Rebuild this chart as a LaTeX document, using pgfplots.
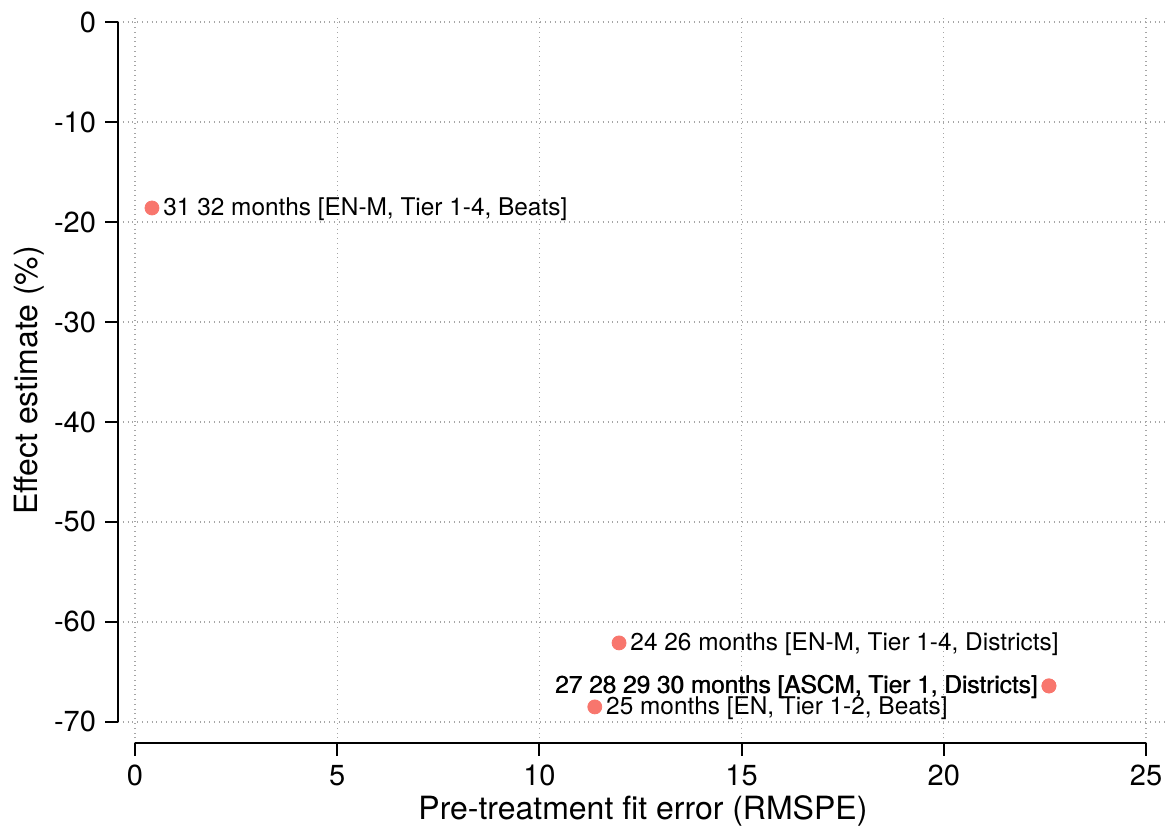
\documentclass[border=0pt]{standalone}
\usepackage{fontspec}
\setmainfont{TeX Gyre Heros}
\usepackage{pgfplots}
\pgfplotsset{compat=1.18}
\definecolor{pt}{RGB}{248,118,109}
\begin{document}
\begin{tikzpicture}
\begin{axis}[
  scale only axis, width=525pt, height=362.5pt,
  xmin=-0.42, xmax=25.54, ymin=-72.1, ymax=0.4,
  axis lines*=left,
  axis line style={draw=none},
  xtick={0,5,...,25}, ytick={-70,-60,...,0},
  tick align=outside, major tick length=6.5pt,
  tick style={black, line width=1pt},
  /pgf/number format/assume math mode=true,
  ticklabel style={font=\fontsize{14.5}{14.5}\selectfont},
  xticklabel style={yshift=-1pt},
  yticklabel style={xshift=-1pt},
  grid=major,
  major grid style={gray!70, dotted, line width=0.6pt},
  xlabel={Pre-treatment fit error (RMSPE)},
  ylabel={Effect estimate (\%)},
  label style={font=\fontsize{16}{16}\selectfont},
  xlabel style={yshift=2pt},
  ylabel style={yshift=-2pt},
  clip=false,
  every node near coord/.append style={font=\fontsize{12.2}{12.2}\selectfont, inner sep=0pt, text=black},
]
\coordinate (bl) at (axis cs:-3.338,-80.5);
\coordinate (tr) at (axis cs:25.618,2.2);
\draw[line width=1pt] (axis cs:-0.42,0) -- (axis cs:-0.42,-70);
\draw[line width=1pt] (axis cs:0,-72.1) -- (axis cs:25,-72.1);
\addplot[only marks, mark=*, mark size=3.5pt, color=pt,
  nodes near coords={31 32 months [EN-M, Tier 1-4, Beats]},
  every node near coord/.append style={anchor=west, xshift=5.5pt, yshift=-0.8pt}]
  coordinates {(0.42,-18.6)};
\addplot[only marks, mark=*, mark size=3.5pt, color=pt,
  nodes near coords={24 26 months [EN-M, Tier 1-4, Districts]},
  every node near coord/.append style={anchor=west, xshift=5.5pt, yshift=-0.8pt}]
  coordinates {(11.97,-62.1)};
\addplot[only marks, mark=*, mark size=3.5pt, color=pt,
  nodes near coords={25 months [EN, Tier 1-2, Beats]},
  every node near coord/.append style={anchor=west, xshift=5.5pt, yshift=-0.8pt}]
  coordinates {(11.37,-68.5)};
\addplot[only marks, mark=*, mark size=3.5pt, color=pt,
  nodes near coords={27 28 29 30 months [ASCM, Tier 1, Districts]},
  every node near coord/.append style={anchor=east, xshift=-5.5pt, yshift=-0.5pt}]
  coordinates {(22.6,-66.4)};
\addplot[only marks, mark=*, mark size=3.5pt, color=pt,
  nodes near coords={27 28 29 30 months [ASCM, Tier 1, Districts]},
  every node near coord/.append style={anchor=east, xshift=-5.2pt, yshift=-0.3pt}]
  coordinates {(22.6,-66.4)};
\end{axis}
\pgfresetboundingbox
\path[use as bounding box] (bl) rectangle (tr);
\end{tikzpicture}
\end{document}
